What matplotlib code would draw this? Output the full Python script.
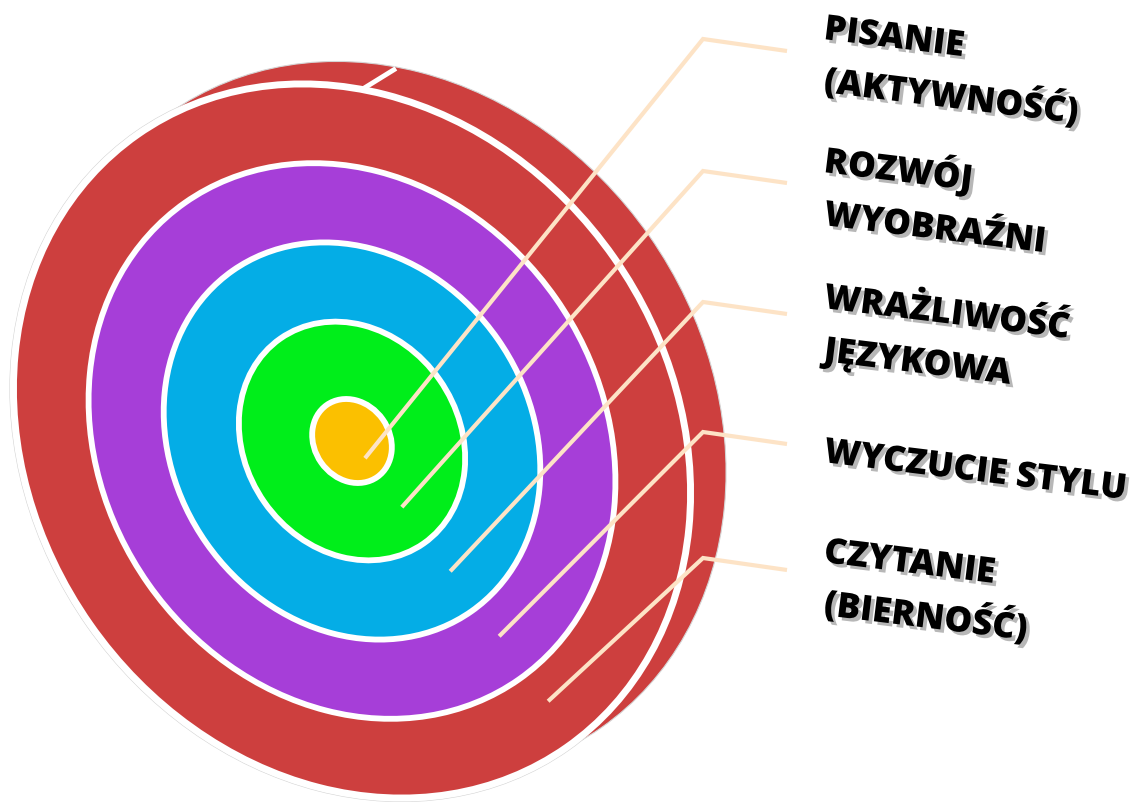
import numpy as np
import matplotlib
matplotlib.use("Agg")
import matplotlib.pyplot as plt
from matplotlib.patches import Ellipse
import matplotlib.patheffects as pe

# ---- data ----
labels = ["PISANIE\n(AKTYWNOŚĆ)", "ROZWÓJ\nWYOBRAŹNI", "WRAŻLIWOŚĆ\nJĘZYKOWA",
          "WYCZUCIE STYLU", "CZYTANIE\n(BIERNOŚĆ)"]
ring_colors = ["#FBC000", "#00EE1A", "#04ADE6", "#A63ED8", "#CD3F3E"]   # inner -> outer
ring_outer = [44, 125, 208, 291, 374]                                    # outer radius of each ring

# ---- layout ----
W, H = 1136, 803
cx, cy = 352, 442
tilt = 55          # perspective tilt of the target (deg)
ratio = 0.855      # minor/major axis ratio
depth = (34, -21)  # offset of the back face of the disc
lead_dir = np.deg2rad(53)
knee_x, end_x = 703, 787
knee_y = [40, 172, 303, 433, 559]
label_x = 823
label_y = [40, 173, 309, 463, 563]
line_pitch = 53
line_col = "#FDE3C6"

fig = plt.figure(figsize=(W / 100, H / 100), dpi=100)
ax = fig.add_axes([0, 0, 1, 1])
ax.set_xlim(0, W)
ax.set_ylim(H, 0)
ax.axis("off")

R = ring_outer[-1]
# grey halo around the front face
ax.add_patch(Ellipse((cx, cy), 2 * R + 7, 2 * R * ratio + 7, angle=tilt,
                     fc="white", ec="#D5D5D5", lw=0.8, zorder=1))
# back face of the disc
ax.add_patch(Ellipse((cx + depth[0], cy + depth[1]), 2 * R + 3, 2 * R * ratio + 3, angle=tilt,
                     fc=ring_colors[-1], ec="#D5D5D5", lw=0.8, zorder=2))

# rings, outer to inner
for k, (r, col) in enumerate(zip(ring_outer[::-1], ring_colors[::-1])):
    ax.add_patch(Ellipse((cx, cy), 2 * r, 2 * r * ratio, angle=tilt,
                         fc=col, ec="white", lw=5.0 if k == 0 else 4.2, zorder=3))

# edge line joining front and back faces
t = np.deg2rad(221)
u = np.array([np.cos(np.deg2rad(tilt)), np.sin(np.deg2rad(tilt))])
v = np.array([-np.sin(np.deg2rad(tilt)), np.cos(np.deg2rad(tilt))])
p0 = np.array([cx, cy]) + R * np.cos(t) * u + R * ratio * np.sin(t) * v
ax.plot([p0[0], p0[0] + depth[0]], [p0[1], p0[1] + depth[1]], color="white", lw=3.5,
        solid_capstyle="butt", zorder=2.5)

# leader lines
inner = [0] + ring_outer[:-1]
for i, (r0, r1) in enumerate(zip(inner, ring_outer)):
    rm = 0.98 * (r0 + r1) / 2
    sx = cx + rm * np.cos(lead_dir)
    sy = cy + rm * np.sin(lead_dir)
    ax.plot([sx, knee_x, end_x], [sy, knee_y[i], knee_y[i] + 12], color=line_col,
            lw=3.0, solid_capstyle="butt", solid_joinstyle="miter", zorder=5)

# labels
shadow = [pe.withSimplePatchShadow(offset=(2.5, -2.5), shadow_rgbFace="#707070", alpha=0.5)]
for lab, ly in zip(labels, label_y):
    for j, line in enumerate(lab.split("\n")):
        ax.text(label_x, ly + j * line_pitch, line, fontsize=25.3, fontweight=800,
                family=["Open Sans", "DejaVu Sans"], color="black", ha="left",
                va="baseline", rotation=-7, rotation_mode="anchor",
                path_effects=shadow, zorder=6)

fig.savefig("out.png", dpi=100, facecolor="white")
